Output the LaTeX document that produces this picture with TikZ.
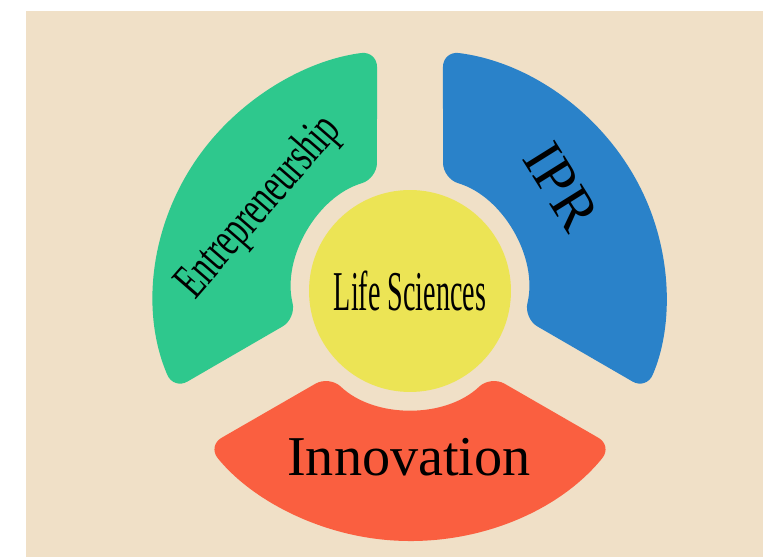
\documentclass[tikz,border=0pt]{standalone}
\usepackage{fontspec}
\setmainfont{Liberation Serif}
\usepackage{graphicx}
\usetikzlibrary{positioning,calc}
\definecolor{lsbeige}{RGB}{240,224,199}
\definecolor{lsgreen}{RGB}{46,200,141}
\definecolor{lsblue}{RGB}{42,130,201}
\definecolor{lsred}{RGB}{250,95,64}
\definecolor{lsyellow}{RGB}{236,228,85}
\tikzstyle{segment} = [rounded corners=9pt]
\tikzstyle{lifecircle} = [circle, fill=lsyellow, minimum size=4.04cm, inner sep=0pt]
\tikzstyle{seglabel} = [inner sep=0pt, text=black]

\begin{document}
\begin{tikzpicture}[x=0.02cm, y=0.02cm]
% Background
\fill[white] (-410,-266) rectangle (353,291);
\fill[lsbeige] (-384,-266) rectangle (353,280);
\useasboundingbox (-410,-266) rectangle (353,291);

% Three ring segments (outer edge slightly flattened)
\foreach \hi/\lo/\ilo/\ihi/\col in {202.6/97.4/106.4/193.6/lsgreen, 82.6/-22.6/-13.6/73.6/lsblue, 322.2/217.8/226.4/313.6/lsred} {
    \fill[segment, \col] ($(0,-4)+(\hi:256 and 246)$) arc[start angle=\hi, end angle=\lo, x radius=256, y radius=246]
        -- (\ilo:117) arc[start angle=\ilo, end angle=\ihi, radius=117] -- cycle;
}

% Centre and labels
\node[lifecircle] (life) at (0,0) {\fontsize{32}{38}\selectfont\scalebox{0.5}[1]{Life Sciences}};
\node[seglabel, rotate=49] (entre) at (151:172) {\fontsize{28.5}{34}\selectfont\scalebox{0.65}[1]{Entrepreneurship}};
\node[seglabel, rotate=-58] (ipr) at (34.5:184) {\fontsize{33}{38}\selectfont IPR};
\node[seglabel] (innov) at (-1,-166) {\fontsize{32}{38}\selectfont Innovation};
\end{tikzpicture}
\end{document}
